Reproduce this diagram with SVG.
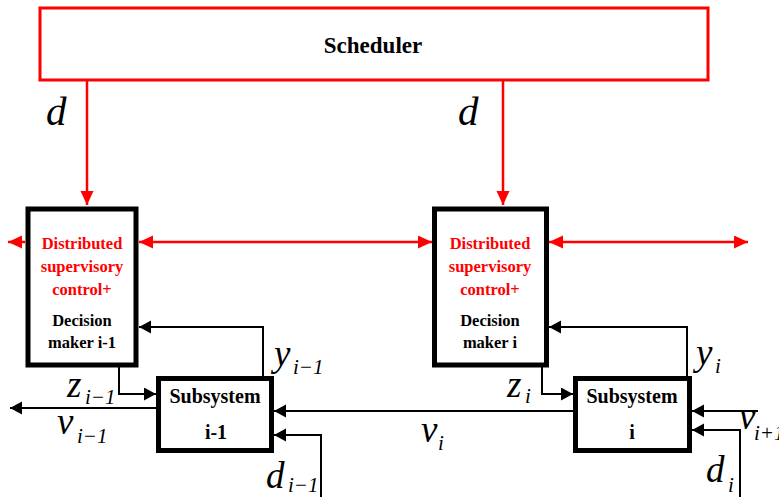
<svg xmlns="http://www.w3.org/2000/svg" width="779" height="497" viewBox="0 0 779 497">
<style>
text{font-family:"Liberation Serif","Times New Roman",serif}
.box{fill:#fff;stroke:#000;stroke-width:5}
.sched{fill:#fff;stroke:#f00;stroke-width:3}
.red{fill:none;stroke:#f00;stroke-width:2.5}
.blk{fill:none;stroke:#000;stroke-width:2}
.t{font-weight:bold;text-anchor:middle}
.tr{fill:#f00;font-size:16.5px}
.tb{fill:#000;font-size:16.5px}
.ts{fill:#000;font-size:20px}
.m{font-style:italic;fill:#000}
.big{font-size:37px}
.sub{font-size:21px}
</style>
<defs>
<marker id="ah" markerUnits="userSpaceOnUse" markerWidth="14" markerHeight="14" refX="12" refY="6.5" orient="auto-start-reverse">
<path d="M0,0 L12,6.5 L0,13 Z" fill="#000"/>
</marker>
<marker id="rh" markerUnits="userSpaceOnUse" markerWidth="16" markerHeight="14" refX="14" refY="6.5" orient="auto-start-reverse">
<path d="M0,0 L14,6.5 L0,13 Z" fill="#f00"/>
</marker>
</defs>

<g id="connectors">
<path class="red" d="M87 80 V205" marker-end="url(#rh)"/>
<path class="red" d="M503 80 V205" marker-end="url(#rh)"/>
<path class="red" d="M25 242 H8" marker-end="url(#rh)"/>
<path class="red" d="M139 242 H432" marker-start="url(#rh)" marker-end="url(#rh)"/>
<path class="red" d="M549 242 H748" marker-start="url(#rh)" marker-end="url(#rh)"/>
<path class="blk" d="M263 376 V327 H139" marker-end="url(#ah)"/>
<path class="blk" d="M687 376 V327 H549" marker-end="url(#ah)"/>
<path class="blk" d="M119 367 V394 H156" marker-end="url(#ah)"/>
<path class="blk" d="M542 367 V394 H573" marker-end="url(#ah)"/>
<path class="blk" d="M156 408 H10" marker-end="url(#ah)"/>
<path class="blk" d="M573 411 H274" marker-end="url(#ah)"/>
<path class="blk" d="M321 497 V435 H274" marker-end="url(#ah)"/>
<path class="blk" d="M758 411 H692" marker-end="url(#ah)"/>
<path class="blk" d="M740 497 V430 H692" marker-end="url(#ah)"/>
</g>

<g id="scheduler">
<rect class="sched" x="40" y="8" width="668" height="72"/>
<text class="t" x="373" y="53" font-size="23">Scheduler</text>
</g>

<g id="dm-i-1">
<rect class="box" x="28" y="209" width="108" height="156"/>
<text class="t tr" x="82" y="249">Distributed</text>
<text class="t tr" x="82" y="272">supervisory</text>
<text class="t tr" x="82" y="295">control+</text>
<text class="t tb" x="82" y="326">Decision</text>
<text class="t tb" x="82" y="348">maker i-1</text>
</g>

<g id="dm-i">
<rect class="box" x="434.5" y="209" width="112" height="156"/>
<text class="t tr" x="490" y="249">Distributed</text>
<text class="t tr" x="490" y="272">supervisory</text>
<text class="t tr" x="490" y="295">control+</text>
<text class="t tb" x="490" y="326">Decision</text>
<text class="t tb" x="490" y="348">maker i</text>
</g>

<g id="subsystem-i-1">
<rect class="box" x="158.5" y="378.5" width="113" height="72"/>
<text class="t ts" x="215" y="403">Subsystem</text>
<text class="t ts" x="216" y="439">i-1</text>
</g>

<g id="subsystem-i">
<rect class="box" x="575.5" y="378.5" width="114" height="72"/>
<text class="t ts" x="632" y="403">Subsystem</text>
<text class="t ts" x="632" y="439">i</text>
</g>

<g id="labels">
<text class="m" x="46" y="125" font-size="41">d</text>
<text class="m" x="458" y="125" font-size="41">d</text>
<text class="m big" x="274" y="366">y</text><text class="m sub" x="293" y="374">i−1</text>
<text class="m big" x="67" y="397">z</text><text class="m sub" x="85" y="404">i−1</text>
<text class="m big" x="57" y="434">v</text><text class="m sub" x="77" y="443">i−1</text>
<text class="m big" x="266" y="488">d</text><text class="m sub" x="288" y="492">i−1</text>
<text class="m big" x="421" y="442">v</text><text class="m sub" x="438" y="450">i</text>
<text class="m big" x="696" y="365">y</text><text class="m sub" x="715" y="373">i</text>
<text class="m big" x="507" y="397">z</text><text class="m sub" x="525" y="403">i</text>
<text class="m big" x="739" y="429">v</text><text class="m sub" x="754" y="440" font-size="18">i+1</text>
<text class="m big" x="706" y="482">d</text><text class="m sub" x="728" y="492">i</text>
</g>
</svg>
